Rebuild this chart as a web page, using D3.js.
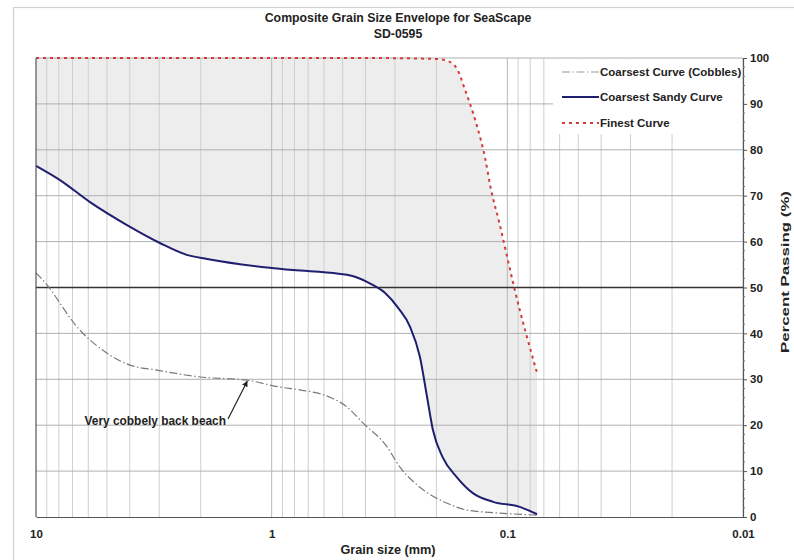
<!DOCTYPE html>
<html><head><meta charset="utf-8">
<script src="https://cdn.jsdelivr.net/npm/d3@7"></script>
<style>
body{margin:0;background:#fff;}
text{font-family:Arial,"Liberation Sans",sans-serif;font-weight:bold;fill:#222;}
</style></head>
<body><svg id="c" width="794" height="560"></svg>
<script>
// ---- data ----
const titleLines = ["Composite Grain Size Envelope for SeaScape", "SD-0595"];
const seriesNames = ["Coarsest Curve (Cobbles)", "Coarsest Sandy Curve", "Finest Curve"];
const xTickLabels = [10, 1, 0.1, 0.01];
const yTickLabels = [0,10,20,30,40,50,60,70,80,90,100];

const cobblesSize = [10, 9.34, 6.51, 5.0, 3.99, 3.07, 2.01, 1.27, 0.922, 0.759, 0.566, 0.48, 0.41, 0.324, 0.286, 0.235, 0.18, 0.148, 0.111, 0.0748];
const cobblesPass = [53.2, 51.6, 40.7, 35.7, 33.1, 32.0, 30.5, 29.8, 28.3, 27.7, 26.1, 24.0, 20.5, 15.3, 10.9, 6.5, 3.0, 1.5, 0.9, 0.4];

const sandySize = [10, 7.91, 5.9, 4.11, 2.98, 2.29, 1.88, 1.02, 0.812, 0.52, 0.44, 0.38, 0.33, 0.29, 0.259, 0.235, 0.219, 0.207, 0.188, 0.164, 0.14, 0.115, 0.0885, 0.0748];
const sandyPass = [76.5, 73.4, 68.6, 63.6, 59.7, 57.1, 56.2, 54.3, 53.8, 53.0, 52.3, 50.8, 48.8, 45.5, 41.5, 34.9, 26.1, 19.0, 13.0, 8.7, 5.2, 3.3, 2.2, 0.6];

const finestSize = [10, 1, 0.4, 0.2, 0.178, 0.163, 0.151, 0.136, 0.124, 0.118, 0.108, 0.101, 0.0935, 0.0748];
const finestPass = [100, 100, 100, 99.8, 99.3, 97.5, 93, 86, 78, 72, 64, 57.5, 50, 31.4];

const annotationText = "Very cobbely back beach";
const annotationPoint = [1.27, 29.8];

// ---- layout ----
const svg = d3.select("#c");
const L = 36, R = 743, T = 58, B = 517;
const x = d3.scaleLog().domain([10, 0.01]).range([L, R]);
const y = d3.scaleLinear().domain([0, 100]).range([B, T]);

// outer frame
svg.append("rect").attr("x",13.5).attr("y",7.5).attr("width",800).attr("height",600)
  .attr("fill","none").attr("stroke","#d0d0d0").attr("stroke-width",1.2);

// titles
svg.append("text").attr("x",398).attr("y",22).attr("text-anchor","middle").attr("font-size","12.3px").text(titleLines[0]);
svg.append("text").attr("x",398).attr("y",38).attr("text-anchor","middle").attr("font-size","12.3px").text(titleLines[1]);

// envelope fill
const lineGen = d3.line().x(d=>x(d[0])).y(d=>y(d[1])).curve(d3.curveMonotoneX);
const fTop = lineGen(finestSize.map((s,i)=>[s,finestPass[i]]));
const sBot = lineGen(sandySize.map((s,i)=>[s,sandyPass[i]]).reverse());
svg.append("path")
  .attr("d", fTop + "L" + x(sandySize[sandySize.length-1]) + "," + y(sandyPass[sandyPass.length-1]) + sBot.replace(/^M/,"L") + "Z")
  .attr("fill","#ededed").attr("stroke","none");

// vertical gridlines
const gridVals = [];
[10,1,0.1].forEach(d=>{ for(let k=1;k<=9;k++) gridVals.push(d*k/10); });
svg.append("g").selectAll("line").data(gridVals).join("line")
  .attr("x1",d=>x(d)).attr("x2",d=>x(d)).attr("y1",T).attr("y2",B)
  .attr("stroke",d=>[1,0.1].some(v=>Math.abs(v-d)<1e-9)?"#b8b8b8":"#cfcfcf").attr("stroke-width",1);

// horizontal gridlines
svg.append("g").selectAll("line").data(yTickLabels.filter(v=>v>0&&v<100)).join("line")
  .attr("x1",L).attr("x2",R).attr("y1",d=>y(d)).attr("y2",d=>y(d))
  .attr("stroke",d=>d===50?"#333":"#b0b0b0").attr("stroke-width",d=>d===50?1.3:1);

// top border
svg.append("line").attr("x1",L).attr("x2",R).attr("y1",T).attr("y2",T).attr("stroke","#b0b0b0");

// legend background
svg.append("rect").attr("x",553).attr("y",T+1).attr("width",R-553-1).attr("height",75).attr("fill","#fff");

// curves
svg.append("path").attr("d", lineGen(cobblesSize.map((s,i)=>[s,cobblesPass[i]])))
  .attr("fill","none").attr("stroke","#7a7a7a").attr("stroke-width",1.2).attr("stroke-dasharray","8,2.5,1.5,2.5");
svg.append("path").attr("d", lineGen(sandySize.map((s,i)=>[s,sandyPass[i]])))
  .attr("fill","none").attr("stroke","#1f1f70").attr("stroke-width",2);
svg.append("path").attr("d", lineGen(finestSize.map((s,i)=>[s,finestPass[i]])))
  .attr("fill","none").attr("stroke","#d23b3b").attr("stroke-width",2).attr("stroke-dasharray","3,4");

// axes
const xAxis = d3.axisBottom(x).tickValues(xTickLabels).tickFormat(d=>String(d)).tickSize(0).tickPadding(13);
const gx = svg.append("g").attr("transform",`translate(0,${B})`).call(xAxis);
gx.select(".domain").attr("stroke","#555").attr("stroke-width",1.2);
gx.selectAll("text").attr("font-size","11.5px").attr("fill","#222").style("font-family","Arial,'Liberation Sans',sans-serif").style("font-weight","bold");

const yAxis = d3.axisRight(y).tickValues(yTickLabels).tickSize(4).tickPadding(3);
const gy = svg.append("g").attr("transform",`translate(${R},0)`).call(yAxis);
gy.select(".domain").attr("stroke","#555").attr("stroke-width",1.2);
gy.selectAll(".tick line").attr("stroke","#555");
gy.selectAll("text").attr("font-size","11.5px").attr("fill","#222").style("font-family","Arial,'Liberation Sans',sans-serif").style("font-weight","bold");
// minor y ticks
svg.append("g").selectAll("line").data(d3.range(0,101,2).filter(v=>v%10!==0)).join("line")
  .attr("x1",R).attr("x2",R+2).attr("y1",d=>y(d)).attr("y2",d=>y(d)).attr("stroke","#777");

// left axis line
svg.append("line").attr("x1",L).attr("x2",L).attr("y1",T).attr("y2",B).attr("stroke","#555").attr("stroke-width",1.2);

// axis titles
svg.append("text").attr("x",388).attr("y",554).attr("text-anchor","middle").attr("font-size","12.7px").text("Grain size (mm)");
svg.append("text").attr("transform",`translate(789,272) rotate(-90)`).attr("text-anchor","middle").attr("font-size","11.5px")
  .attr("textLength",162).attr("lengthAdjust","spacingAndGlyphs").text("Percent Passing (%)");

// legend
const legY = [72, 97, 123];
const styles = [
  {stroke:"#9a9a9a", w:1.2, dash:"8,2.5,1.5,2.5"},
  {stroke:"#1f1f70", w:2, dash:null},
  {stroke:"#d23b3b", w:2, dash:"3,4"}
];
seriesNames.forEach((n,i)=>{
  const l = svg.append("line").attr("x1",562).attr("x2",599).attr("y1",legY[i]).attr("y2",legY[i])
    .attr("stroke",styles[i].stroke).attr("stroke-width",styles[i].w);
  if (styles[i].dash) l.attr("stroke-dasharray",styles[i].dash);
  svg.append("text").attr("x",600).attr("y",legY[i]+4).attr("font-size","11.5px").text(n);
});

// annotation
const ax = x(annotationPoint[0]), ay = y(annotationPoint[1]);
svg.append("defs").append("marker").attr("id","arr").attr("viewBox","0 0 10 10").attr("refX",9).attr("refY",5)
  .attr("markerWidth",5).attr("markerHeight",5).attr("orient","auto")
  .append("path").attr("d","M0,0L10,5L0,10Z").attr("fill","#222");
svg.append("line").attr("x1",228).attr("y1",419).attr("x2",ax).attr("y2",ay+1)
  .attr("stroke","#222").attr("stroke-width",1.2).attr("marker-end","url(#arr)");
svg.append("text").attr("x",226).attr("y",425).attr("text-anchor","end").attr("font-size","11.9px").text(annotationText);
</script></body></html>
